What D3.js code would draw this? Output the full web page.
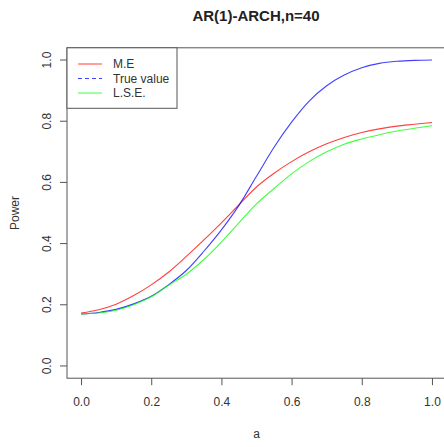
<!DOCTYPE html>
<html>
<head>
<meta charset="utf-8">
<script src="https://cdn.jsdelivr.net/npm/d3@7"></script>
<style>
  html, body { margin: 0; padding: 0; background: #fff; }
  svg { display: block; font-family: "Liberation Sans", Arial, sans-serif; }
</style>
</head>
<body>
<svg id="chart" width="444" height="447"></svg>
<script>
// Power curves for the AR(1)-ARCH test, n = 40
const aValues = [0, 0.05, 0.1, 0.15, 0.2, 0.25, 0.3, 0.35, 0.4, 0.45, 0.5,
                 0.55, 0.6, 0.65, 0.7, 0.75, 0.8, 0.85, 0.9, 0.95, 1.0];
const powerME = [0.173, 0.184, 0.202, 0.230, 0.265, 0.307, 0.358, 0.412, 0.468, 0.527, 0.585,
                 0.630, 0.668, 0.700, 0.726, 0.747, 0.763, 0.775, 0.784, 0.790, 0.796];
const powerTrue = [0.170, 0.175, 0.185, 0.203, 0.228, 0.266, 0.312, 0.375, 0.445, 0.525, 0.620,
                   0.715, 0.797, 0.866, 0.916, 0.951, 0.975, 0.989, 0.996, 0.999, 1.000];
const powerLSE = [0.170, 0.173, 0.182, 0.200, 0.226, 0.264, 0.300, 0.348, 0.405, 0.468, 0.530,
                  0.580, 0.628, 0.668, 0.700, 0.725, 0.742, 0.756, 0.768, 0.777, 0.785];
const xTicks = [0, 0.2, 0.4, 0.6, 0.8, 1.0];
const yTicks = [0, 0.2, 0.4, 0.6, 0.8, 1.0];
const seriesNames = ["M.E", "True value", "L.S.E."];
const seriesColors = ["#ff0000", "#0000ff", "#00ff00"];

const svg = d3.select("#chart");
const plot = { left: 67, right: 446, top: 47.8, bottom: 378.2 };

const x = d3.scaleLinear().domain([-0.04, 1.04]).range([plot.left, plot.right]);
const y = d3.scaleLinear().domain([-0.04, 1.04]).range([plot.bottom, plot.top]);

const axisColor = "#555";
const textColor = "#333";

// Title
svg.append("text")
  .attr("x", 256).attr("y", 20.5)
  .attr("text-anchor", "middle")
  .attr("font-size", 15).attr("font-weight", "bold")
  .attr("fill", "#222")
  .text("AR(1)-ARCH,n=40");

// Axes
const xAxis = d3.axisBottom(x).tickValues(xTicks).tickFormat(d3.format(".1f")).tickSize(7).tickPadding(12);
const gx = svg.append("g").attr("transform", `translate(0,${plot.bottom})`).call(xAxis);
gx.select(".domain").remove();
gx.selectAll("line").attr("stroke", axisColor);
gx.selectAll("text").attr("font-size", 12).attr("fill", textColor)
  .attr("font-family", "Liberation Sans, Arial, sans-serif");

const yAxis = d3.axisLeft(y).tickValues(yTicks).tickFormat(d3.format(".1f")).tickSize(7);
const gy = svg.append("g").attr("transform", `translate(${plot.left},0)`).call(yAxis);
gy.select(".domain").remove();
gy.selectAll("line").attr("stroke", axisColor);
gy.selectAll("text")
  .attr("font-size", 12).attr("fill", textColor)
  .attr("font-family", "Liberation Sans, Arial, sans-serif")
  .attr("x", 0).attr("dy", null)
  .attr("text-anchor", "middle")
  .attr("transform", d => `translate(-20,${y(d)}) rotate(-90)`)
  .attr("y", 0)
  .attr("dominant-baseline", "central");
gy.selectAll(".tick").attr("transform", null);
gy.selectAll(".tick line").attr("y1", d => y(d)).attr("y2", d => y(d));

// Plot frame
svg.append("rect")
  .attr("x", plot.left).attr("y", plot.top)
  .attr("width", plot.right - plot.left).attr("height", plot.bottom - plot.top)
  .attr("fill", "none").attr("stroke", axisColor).attr("stroke-width", 1);

// Axis titles
svg.append("text")
  .attr("x", x(0.5)).attr("y", 438)
  .attr("text-anchor", "middle").attr("font-size", 12).attr("fill", textColor)
  .text("a");
svg.append("text")
  .attr("transform", `translate(19,${(plot.top + plot.bottom) / 2}) rotate(-90)`)
  .attr("text-anchor", "middle").attr("font-size", 12).attr("fill", textColor)
  .text("Power");

// Curves
const line = d3.line()
  .x((d, i) => x(aValues[i]))
  .y(d => y(d))
  .curve(d3.curveMonotoneX);

const series = [powerME, powerTrue, powerLSE];
series.forEach((vals, k) => {
  svg.append("path")
    .datum(vals)
    .attr("d", line)
    .attr("fill", "none")
    .attr("stroke", seriesColors[k])
    .attr("stroke-opacity", 0.75)
    .attr("stroke-width", 1.1);
});

// Legend
const legend = svg.append("g");
legend.append("rect")
  .attr("x", plot.left).attr("y", plot.top)
  .attr("width", 110).attr("height", 60.5)
  .attr("fill", "#fff").attr("stroke", axisColor).attr("stroke-width", 1);
seriesNames.forEach((name, k) => {
  const yy = 64 + k * 14.5;
  legend.append("line")
    .attr("x1", 78).attr("x2", 102).attr("y1", yy).attr("y2", yy)
    .attr("stroke", seriesColors[k]).attr("stroke-opacity", 0.75)
    .attr("stroke-dasharray", k === 1 ? "4,3" : null);
  legend.append("text")
    .attr("x", 113).attr("y", yy)
    .attr("dominant-baseline", "central")
    .attr("font-size", 12).attr("fill", textColor)
    .text(name);
});
</script>
</body>
</html>
